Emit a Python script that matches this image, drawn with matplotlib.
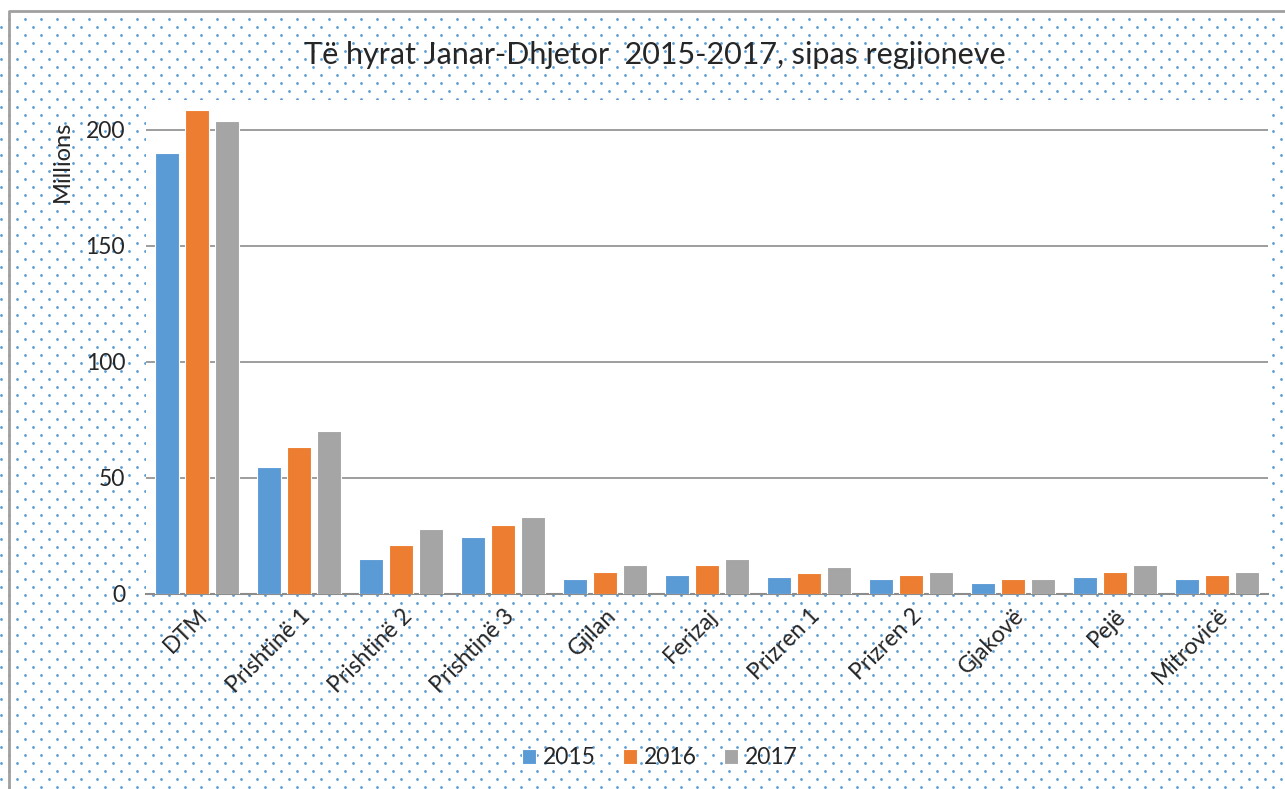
import numpy as np
import matplotlib.pyplot as plt

plt.rcParams['font.family'] = ['Lato', 'DejaVu Sans']

# data (millions)
regions = ['DTM', 'Prishtinë 1', 'Prishtinë 2', 'Prishtinë 3', 'Gjilan', 'Ferizaj',
           'Prizren 1', 'Prizren 2', 'Gjakovë', 'Pejë', 'Mitrovicë']
years = ['2015', '2016', '2017']
v2015 = [190, 54.7, 15, 24.5, 6.3, 8.0, 7.2, 6.3, 4.6, 7.2, 6.3]
v2016 = [208.5, 63.4, 21, 29.7, 9.6, 12.4, 8.9, 8.0, 6.3, 9.6, 8.0]
v2017 = [204, 70.3, 28, 33, 12.4, 14.9, 11.5, 9.6, 6.3, 12.4, 9.6]
colors = ['#5b9bd5', '#ed7d31', '#a5a5a5']

W, H = 1285, 789
fig = plt.figure(figsize=(W / 100, H / 100), dpi=100)

# dotted chart-area fill
bg = fig.add_axes([0, 0, 1, 1], zorder=-10)
bg.set_xlim(0, W)
bg.set_ylim(H, 0)
bg.axis('off')
dx, dy = [], []
for i, yy in enumerate(np.arange(19, H, 8)):
    xs = np.arange(8 if i % 2 == 0 else 0, W, 16) + 0.5
    dx.extend(xs)
    dy.extend([yy] * len(xs))
bg.scatter(dx, dy, s=4, color='#5b9bd5', linewidths=0)
bg.plot([9, 9, W + 5], [H + 5, 11, 11], color='#a0a0a0', lw=2)

ax = fig.add_axes([146 / W, 1 - 594 / H, (1268 - 146) / W, (594 - 100) / H])
ax.set_facecolor('white')

x = np.arange(len(regions))
bw = 0.235
step = 0.29
for k, vals in enumerate([v2015, v2016, v2017]):
    ax.bar(x + (k - 1) * step, vals, bw, color=colors[k], edgecolor='white',
           linewidth=0.8, label=years[k], zorder=3)

ax.set_xlim(-0.5, len(regions) - 0.5)
ax.set_ylim(0, 494 / 2.32)
ax.set_yticks([0, 50, 100, 150, 200])
ax.grid(axis='y', color='#8c8c8c', lw=1.2, zorder=0)
for s in ['top', 'right', 'left']:
    ax.spines[s].set_visible(False)
ax.spines['bottom'].set_color('#8c8c8c')
ax.spines['bottom'].set_linewidth(1.5)
ax.tick_params(axis='both', length=0, labelsize=16.5, colors='#404040', pad=15)
ax.tick_params(axis='x', pad=8)
ax.set_xticks(x)
ax.set_xticklabels(regions, rotation=45, ha='right', va='top', rotation_mode='anchor')
for t in ax.get_yticklabels():
    t.set_color('#262626')
for t in ax.get_xticklabels():
    t.set_color('#262626')

fig.text(62 / W, 1 - 161 / H, 'Millions', rotation=90, ha='center', va='center',
         fontsize=17, color='#262626')
fig.text(655 / W, 1 - 55 / H, 'Të hyrat Janar-Dhjetor  2015-2017, sipas regjioneve',
         ha='center', va='center', fontsize=22, color='#262626')

leg = ax.legend(loc='center', bbox_to_anchor=(660 / W, 1 - 758 / H),
                bbox_transform=fig.transFigure, ncol=3, frameon=False,
                fontsize=16.5, handlelength=0.6, handleheight=0.6,
                handletextpad=0.3, columnspacing=1.2)
for t in leg.get_texts():
    t.set_color('#262626')

fig.savefig('out.png', dpi=100)
